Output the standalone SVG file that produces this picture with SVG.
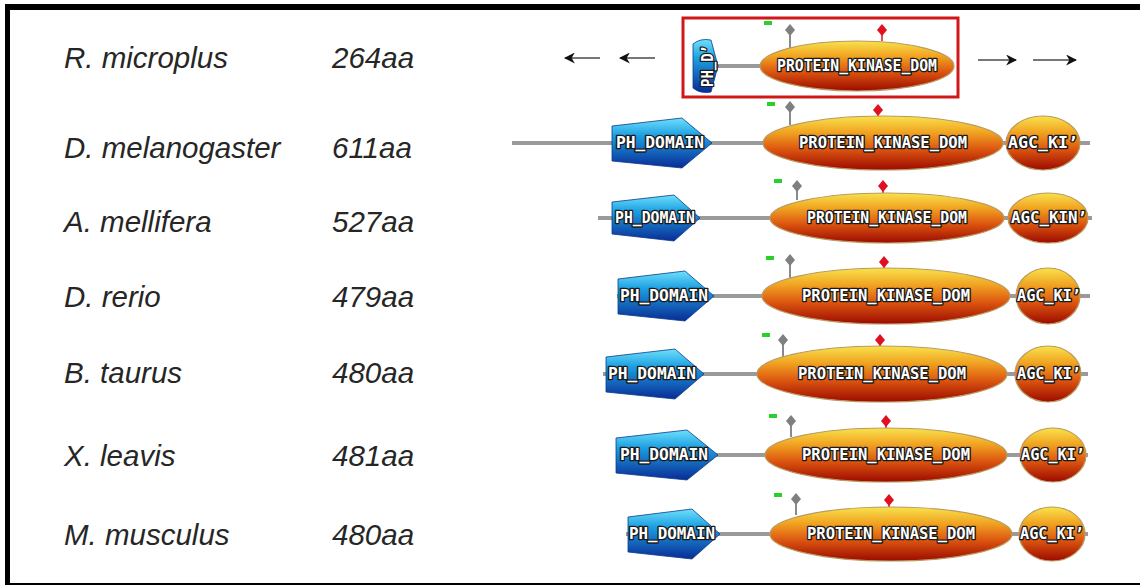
<svg xmlns="http://www.w3.org/2000/svg" width="1140" height="585" viewBox="0 0 1140 585">
<defs>
<linearGradient id="blue" x1="0" y1="0" x2="0" y2="1">
<stop offset="0" stop-color="#6ee0fa"/><stop offset="0.35" stop-color="#1d9fe2"/><stop offset="1" stop-color="#0a2c96"/>
</linearGradient>
<linearGradient id="kin" x1="0" y1="0" x2="0" y2="1">
<stop offset="0" stop-color="#f8e24c"/><stop offset="0.3" stop-color="#f1a422"/><stop offset="0.62" stop-color="#dc5510"/><stop offset="1" stop-color="#9c0a00"/>
</linearGradient>
<marker id="ah" viewBox="0 0 10 10" refX="9" refY="5" markerWidth="11" markerHeight="11" markerUnits="userSpaceOnUse" orient="auto">
<path d="M0,0 L10,5 L0,10 L3,5 Z" fill="#111"/>
</marker>
<style>
.lab{font-family:"Liberation Sans",Arial,sans-serif;font-style:italic;font-size:29.5px;fill:#262626}
.dt{font-family:"DejaVu Sans Mono",monospace;font-weight:bold;font-size:15px;fill:#fff;stroke:#1a1a1a;stroke-width:2.6px;paint-order:stroke;stroke-linejoin:round;text-anchor:middle}
.bb{stroke:#9a9a9a;stroke-width:4}
.ph{fill:url(#blue);stroke:#0a3a8a;stroke-width:0.8}
.kd{fill:url(#kin);stroke:#b89a60;stroke-width:1.2}
.gp{stroke:#8a8a8a;stroke-width:2}
.gd{fill:#7f7f7f}
.rp{stroke:#e01020;stroke-width:1.5}
.rd{fill:#e01020}
.gm{fill:#2ad02a}
.arr{stroke:#777;stroke-width:1.8;fill:none;marker-end:url(#ah)}
</style>
</defs>
<rect width="1140" height="585" fill="#fff"/>
<rect x="5" y="4" width="1135" height="6" fill="#000"/>
<rect x="5" y="4" width="5" height="581" fill="#000"/>
<rect x="5" y="583" width="1135" height="2" fill="#000"/>

<g id="labels">
<text class="lab" x="64" y="68">R. microplus</text><text class="lab" x="332" y="68">264aa</text>
<text class="lab" x="64" y="158">D. melanogaster</text><text class="lab" x="332" y="158">611aa</text>
<text class="lab" x="64" y="232">A. mellifera</text><text class="lab" x="332" y="232">527aa</text>
<text class="lab" x="64" y="307">D. rerio</text><text class="lab" x="332" y="307">479aa</text>
<text class="lab" x="64" y="383">B. taurus</text><text class="lab" x="332" y="383">480aa</text>
<text class="lab" x="64" y="466">X. leavis</text><text class="lab" x="332" y="466">481aa</text>
<text class="lab" x="64" y="545">M. musculus</text><text class="lab" x="332" y="545">480aa</text>
</g>

<g id="connectors">
<line class="arr" x1="600" y1="58" x2="565" y2="58"/>
<line class="arr" x1="655" y1="58" x2="620" y2="58"/>
<line class="arr" x1="978" y1="60" x2="1016" y2="60"/>
<line class="arr" x1="1033" y1="60" x2="1076" y2="60"/>
</g>

<g id="row-r-microplus">
<rect x="683" y="18" width="275" height="79" fill="none" stroke="#d01818" stroke-width="3"/>
<line class="bb" x1="712" y1="66" x2="765" y2="66"/>
<path class="ph" d="M693,44 Q700,38 711,40 L718,66 L711,92 Q700,94 693,88 Z"/>
<text class="dt" transform="translate(709,66) rotate(-90)" textLength="42" lengthAdjust="spacingAndGlyphs" y="4" font-size="13">PH_D’</text>
<line class="gp" x1="790" y1="30" x2="790" y2="48"/><polygon class="gd" points="790,24 795,30 790,36 785,30"/>
<line class="rp" x1="882" y1="30" x2="882" y2="41"/><polygon class="rd" points="882,24 887,30 882,36 877,30"/>
<rect class="gm" x="764" y="21" width="8" height="4"/>
<ellipse class="kd" cx="857" cy="66" rx="97" ry="25"/>
<text class="dt" x="857" y="71" textLength="160" lengthAdjust="spacingAndGlyphs">PROTEIN_KINASE_DOM</text>
</g>

<g id="row-d-melanogaster">
<line class="bb" x1="512" y1="143" x2="1090" y2="143"/>
<path class="ph" d="M612,126 L682,118 L712,143 L682,168 L612,161 Z"/>
<text class="dt" x="660" y="148" textLength="88" lengthAdjust="spacingAndGlyphs">PH_DOMAIN</text>
<line class="gp" x1="790" y1="107" x2="790" y2="125"/><polygon class="gd" points="790,101 795,107 790,113 785,107"/>
<line class="rp" x1="878" y1="110" x2="878" y2="117"/><polygon class="rd" points="878,104 883,110 878,116 873,110"/>
<rect class="gm" x="767" y="102" width="8" height="4"/>
<ellipse class="kd" cx="883" cy="143" rx="120" ry="27"/>
<text class="dt" x="883" y="148" textLength="168" lengthAdjust="spacingAndGlyphs">PROTEIN_KINASE_DOM</text>
<ellipse class="kd" cx="1043" cy="143" rx="37" ry="27"/>
<text class="dt" x="1043" y="148" textLength="70" lengthAdjust="spacingAndGlyphs">AGC_KI’</text>
</g>

<g id="row-a-mellifera">
<line class="bb" x1="598" y1="218" x2="1092" y2="218"/>
<path class="ph" d="M612,202 L674,195 L700,218 L674,241 L612,234 Z"/>
<text class="dt" x="655" y="223" textLength="80" lengthAdjust="spacingAndGlyphs">PH_DOMAIN</text>
<line class="gp" x1="797" y1="186" x2="797" y2="200"/><polygon class="gd" points="797,180 802,186 797,192 792,186"/>
<line class="rp" x1="883" y1="186" x2="883" y2="193"/><polygon class="rd" points="883,180 888,186 883,192 878,186"/>
<rect class="gm" x="774" y="179" width="8" height="4"/>
<ellipse class="kd" cx="887" cy="218" rx="117" ry="25"/>
<text class="dt" x="887" y="223" textLength="160" lengthAdjust="spacingAndGlyphs">PROTEIN_KINASE_DOM</text>
<ellipse class="kd" cx="1048" cy="218" rx="40" ry="25"/>
<text class="dt" x="1049" y="223" textLength="76" lengthAdjust="spacingAndGlyphs">AGC_KIN’</text>
</g>

<g id="row-d-rerio">
<line class="bb" x1="617" y1="296" x2="1090" y2="296"/>
<path class="ph" d="M618,279 L685,271 L714,296 L685,321 L618,314 Z"/>
<text class="dt" x="664" y="301" textLength="88" lengthAdjust="spacingAndGlyphs">PH_DOMAIN</text>
<line class="gp" x1="790" y1="260" x2="790" y2="278"/><polygon class="gd" points="790,254 795,260 790,266 785,260"/>
<line class="rp" x1="884" y1="262" x2="884" y2="269"/><polygon class="rd" points="884,256 889,262 884,268 879,262"/>
<rect class="gm" x="766" y="256" width="8" height="4"/>
<ellipse class="kd" cx="886" cy="296" rx="124" ry="28"/>
<text class="dt" x="886" y="301" textLength="168" lengthAdjust="spacingAndGlyphs">PROTEIN_KINASE_DOM</text>
<ellipse class="kd" cx="1048" cy="296" rx="32" ry="28"/>
<text class="dt" x="1049" y="301" textLength="64" lengthAdjust="spacingAndGlyphs">AGC_KI’</text>
</g>

<g id="row-b-taurus">
<line class="bb" x1="603" y1="374" x2="1088" y2="374"/>
<path class="ph" d="M606,357 L675,349 L704,374 L675,399 L606,392 Z"/>
<text class="dt" x="652" y="379" textLength="88" lengthAdjust="spacingAndGlyphs">PH_DOMAIN</text>
<line class="gp" x1="783" y1="340" x2="783" y2="357"/><polygon class="gd" points="783,334 788,340 783,346 778,340"/>
<line class="rp" x1="880" y1="340" x2="880" y2="347"/><polygon class="rd" points="880,334 885,340 880,346 875,340"/>
<rect class="gm" x="762" y="333" width="8" height="4"/>
<ellipse class="kd" cx="882" cy="374" rx="125" ry="28"/>
<text class="dt" x="882" y="379" textLength="168" lengthAdjust="spacingAndGlyphs">PROTEIN_KINASE_DOM</text>
<ellipse class="kd" cx="1048" cy="374" rx="33" ry="28"/>
<text class="dt" x="1049" y="379" textLength="64" lengthAdjust="spacingAndGlyphs">AGC_KI’</text>
</g>

<g id="row-x-leavis">
<line class="bb" x1="616" y1="455" x2="1088" y2="455"/>
<path class="ph" d="M616,438 L687,430 L718,455 L687,480 L616,473 Z"/>
<text class="dt" x="664" y="460" textLength="88" lengthAdjust="spacingAndGlyphs">PH_DOMAIN</text>
<line class="gp" x1="791" y1="421" x2="791" y2="437"/><polygon class="gd" points="791,415 796,421 791,427 786,421"/>
<line class="rp" x1="886" y1="421" x2="886" y2="428"/><polygon class="rd" points="886,415 891,421 886,427 881,421"/>
<rect class="gm" x="769" y="414" width="8" height="4"/>
<ellipse class="kd" cx="886" cy="455" rx="121" ry="27"/>
<text class="dt" x="886" y="460" textLength="168" lengthAdjust="spacingAndGlyphs">PROTEIN_KINASE_DOM</text>
<ellipse class="kd" cx="1053" cy="455" rx="33" ry="27"/>
<text class="dt" x="1053" y="460" textLength="64" lengthAdjust="spacingAndGlyphs">AGC_KI’</text>
</g>

<g id="row-m-musculus">
<line class="bb" x1="626" y1="534" x2="1088" y2="534"/>
<path class="ph" d="M628,517 L692,509 L720,534 L692,559 L628,552 Z"/>
<text class="dt" x="672" y="539" textLength="86" lengthAdjust="spacingAndGlyphs">PH_DOMAIN</text>
<line class="gp" x1="796" y1="499" x2="796" y2="515"/><polygon class="gd" points="796,493 801,499 796,505 791,499"/>
<line class="rp" x1="889" y1="500" x2="889" y2="507"/><polygon class="rd" points="889,494 894,500 889,506 884,500"/>
<rect class="gm" x="774" y="493" width="8" height="4"/>
<ellipse class="kd" cx="891" cy="534" rx="121" ry="27"/>
<text class="dt" x="891" y="539" textLength="168" lengthAdjust="spacingAndGlyphs">PROTEIN_KINASE_DOM</text>
<ellipse class="kd" cx="1052" cy="534" rx="33" ry="27"/>
<text class="dt" x="1052" y="539" textLength="64" lengthAdjust="spacingAndGlyphs">AGC_KI’</text>
</g>
</svg>
